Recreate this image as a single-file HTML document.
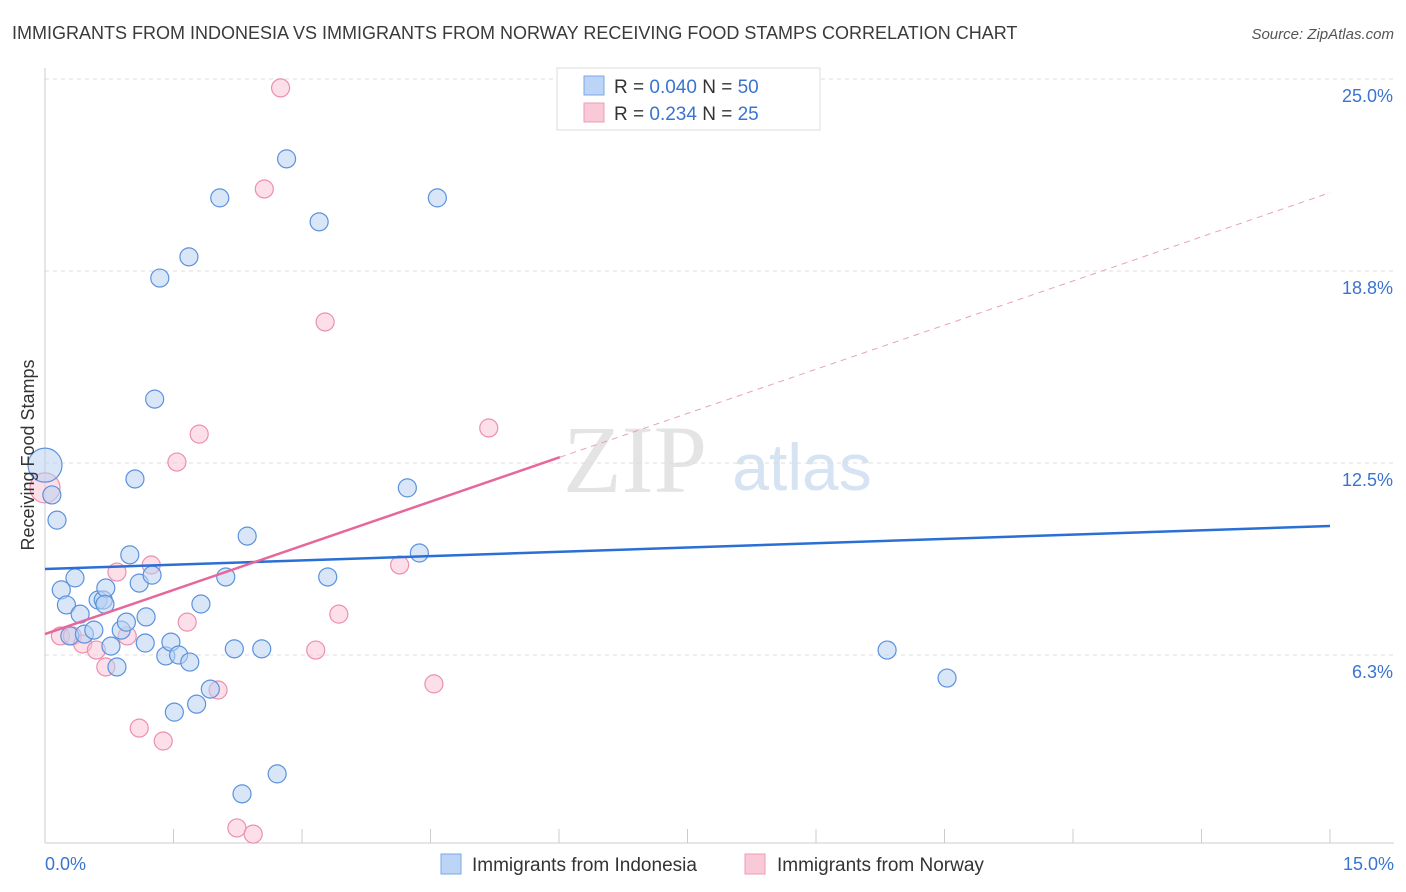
<!DOCTYPE html>
<html><head><meta charset="utf-8"><style>
body{margin:0;background:#fff;font-family:"Liberation Sans",sans-serif}
</style></head><body>
<svg width="1406" height="892" viewBox="0 0 1406 892" style="position:absolute;left:0;top:0">
<text x="12" y="39" font-size="18" fill="#3a3a3a">IMMIGRANTS FROM INDONESIA VS IMMIGRANTS FROM NORWAY RECEIVING FOOD STAMPS CORRELATION CHART</text>
<text x="1394" y="39" font-size="15" fill="#555" font-style="italic" text-anchor="end">Source: ZipAtlas.com</text>
<text x="635" y="492" font-size="96" fill="#e4e4e4" font-family="Liberation Serif,serif" text-anchor="middle">ZIP</text>
<text x="802" y="490" font-size="66" fill="#d6e3f3" text-anchor="middle">atlas</text>
<g id="grid"></g>
<g id="axes"></g>
<g id="marks"></g>
<text transform="translate(34,455) rotate(-90)" font-size="18" fill="#333" text-anchor="middle">Receiving Food Stamps</text>
<text x="45" y="870" font-size="18" fill="#3a74d0">0.0%</text>
<text x="1394" y="870" font-size="18" fill="#3a74d0" text-anchor="end">15.0%</text>
<g>
<rect x="557" y="68" width="263" height="62" fill="#fff" stroke="#ddd"/>
<rect x="584" y="76" width="20" height="19" fill="#bcd4f5" stroke="#7aa7e6"/>
<rect x="584" y="103" width="20" height="19" fill="#f9c9d8" stroke="#ee9cb6"/>
<text x="614" y="93" font-size="19" fill="#333">R = <tspan fill="#3a74d0">0.040</tspan>   N = <tspan fill="#3a74d0">50</tspan></text>
<text x="614" y="120" font-size="19" fill="#333">R =  <tspan fill="#3a74d0">0.234</tspan>   N =  <tspan fill="#3a74d0">25</tspan></text>
</g>
<g>
<rect x="441" y="854" width="20" height="20" fill="#bcd4f5" stroke="#7aa7e6"/>
<text x="472" y="871" font-size="19" fill="#333">Immigrants from Indonesia</text>
<rect x="745" y="854" width="20" height="20" fill="#f9c9d8" stroke="#ee9cb6"/>
<text x="777" y="871" font-size="19" fill="#333">Immigrants from Norway</text>
</g>
</svg>
<script>
const yTicks=[6.25,12.5,18.75,25];
const yTickLabels=["6.3%","12.5%","18.8%","25.0%"];
const xTicks=[0,1.5,3,4.5,6,7.5,9,10.5,12,13.5,15];
const blueX=[0,0.08,0.14,0.35,0.19,0.25,0.41,0.29,0.46,0.57,0.62,0.68,0.71,0.77,0.84,0.89,0.95,0.99,1.10,1.17,1.18,1.25,1.28,1.34,1.05,1.41,1.47,1.51,1.56,1.69,1.68,1.77,1.82,1.93,2.04,2.11,2.21,2.30,2.36,2.53,2.71,2.82,3.20,3.30,4.23,4.37,4.58,9.83,10.53,0.70];
const blueY=[12.43,11.46,10.64,8.76,8.37,7.88,7.58,6.87,6.93,7.06,8.04,8.04,8.43,6.54,5.86,7.06,7.32,9.51,8.59,6.64,7.49,8.85,14.58,18.52,11.98,6.22,6.67,4.39,6.25,6.02,19.21,4.65,7.91,5.14,21.13,8.79,6.45,1.73,10.12,6.45,2.38,22.40,20.35,8.79,11.69,9.57,21.13,6.41,5.50,7.90];
const pinkX=[0,0.18,0.32,0.44,0.60,0.71,0.84,0.96,1.10,1.24,1.38,1.54,1.66,1.80,2.02,2.24,2.43,2.56,2.75,3.16,3.27,3.43,4.14,4.54,5.18];
const pinkY=[11.69,6.87,6.87,6.61,6.41,5.86,8.95,6.87,3.87,9.18,3.45,12.53,7.32,13.44,5.11,0.62,0.42,21.42,24.71,6.41,17.09,7.58,9.18,5.31,13.64];
const blueTrend=[9.05,10.45];
const pinkTrend=[6.93,21.3];
const pinkSolidEnd=6.01;
const NS="http://www.w3.org/2000/svg";
const X=v=>45+v/15*1285, Y=v=>847-v*30.72;
function mk(tag,attrs,parent){const e=document.createElementNS(NS,tag);for(const k in attrs)e.setAttribute(k,attrs[k]);document.getElementById(parent).appendChild(e);return e;}
yTicks.forEach((t,i)=>{
 const l=mk('line',{x1:45,x2:1394,y1:Y(t),y2:Y(t),stroke:'#ddd','stroke-dasharray':'4,4'},'grid');
 
 
 const tx=mk('text',{x:1393,y:Y(t)+23,'font-size':18,fill:'#3a74d0','text-anchor':'end'},'grid');
 tx.textContent=yTickLabels[i];
 
 
});
const ax=mk('line',{x1:45,x2:1394,y1:843,y2:843,stroke:'#ccc'},'axes');


const ay=mk('line',{x1:45,x2:45,y1:68,y2:843,stroke:'#ccc'},'axes');


xTicks.forEach(t=>{
 const l=mk('line',{x1:X(t),x2:X(t),y1:829,y2:843,stroke:'#ccc'},'axes');
 
 
});
function pts(xs,ys,fill,stroke,name){
 xs.forEach((x,i)=>{
  const r=(x===0&&i===0)?(name==='blue-point'?17:15):9;
  const c=mk('circle',{cx:X(x),cy:Y(ys[i]),r:r,fill:fill,'fill-opacity':0.55,stroke:stroke,'stroke-width':1.2},'marks');
  
  
 });
}
pts(pinkX,pinkY,'#f9c4d5','#ec8fae','pink-point');
pts(blueX,blueY,'#b8d1f3','#5b92dd','blue-point');
const bt=mk('line',{x1:X(0),y1:Y(blueTrend[0]),x2:X(15),y2:Y(blueTrend[1]),stroke:'#2a6fd6','stroke-width':2.5},'marks');


const py=v=>pinkTrend[0]+(pinkTrend[1]-pinkTrend[0])*v/15;
const pt=mk('line',{x1:X(0),y1:Y(pinkTrend[0]),x2:X(pinkSolidEnd),y2:Y(py(pinkSolidEnd)),stroke:'#e6689a','stroke-width':2.5},'marks');


const pd=mk('line',{x1:X(pinkSolidEnd),y1:Y(py(pinkSolidEnd)),x2:X(15),y2:Y(pinkTrend[1]),stroke:'#eaa0bb','stroke-width':1,'stroke-dasharray':'6,5'},'marks');


</script>
</body></html>
